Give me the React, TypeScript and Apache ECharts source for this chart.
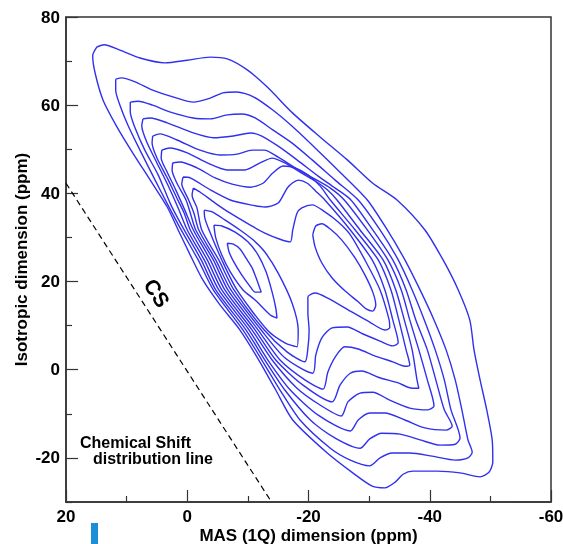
import React, { useEffect, useRef } from "react";
import * as echarts from "echarts";

const xMin = -60;
const xMax = 20;
const xStep = 20;
const yMin = -30;
const yMax = 80;
const yMajorTicks = [-20, 0, 20, 40, 60, 80];
const yMinorTicks = [-30, -10, 10, 30, 50, 70];

// contour lines, outermost first: [MAS shift, isotropic shift]
const contour1 = [[14.9,73.2],[13.7,73.7],[11.1,72.5],[7.8,70.7],[3.7,69.6],[0.0,70.2],[-3.8,70.9],[-6.6,70.5],[-9.9,68.0],[-13.2,64.1],[-17.4,58.2],[-21.9,52.8],[-26.4,47.6],[-30.6,42.3],[-34.6,38.5],[-39.2,31.7],[-42.2,24.9],[-44.7,18.1],[-46.6,11.3],[-47.3,4.5],[-48.3,-2.3],[-49.4,-9.1],[-50.3,-15.9],[-50.4,-20.9],[-49.8,-23.2],[-48.3,-24.3],[-45.0,-23.4],[-41.2,-23.0],[-37.2,-23.0],[-35.6,-23.7],[-34.3,-25.5],[-32.6,-26.8],[-30.5,-26.4],[-27.3,-23.4],[-23.1,-18.9],[-17.4,-11.4],[-14.6,-4.6],[-11.8,2.2],[-8.7,9.0],[-5.4,14.7],[-2.6,20.3],[-0.5,26.0],[1.5,31.7],[3.3,36.9],[6.1,43.0],[9.0,49.2],[11.6,55.1],[13.9,61.2],[15.2,67.3],[15.6,71.2]];
const contour2 = [[11.8,65.9],[10.8,66.2],[8.6,65.3],[5.7,63.4],[1.7,61.6],[-1.0,60.7],[-3.8,61.6],[-5.9,62.8],[-8.2,63.0],[-10.9,61.9],[-14.1,58.9],[-17.4,55.1],[-21.1,50.3],[-25.2,44.8],[-29.7,38.5],[-33.0,31.7],[-35.9,24.9],[-38.4,18.1],[-40.7,11.3],[-42.7,4.5],[-44.2,-2.3],[-45.3,-9.1],[-46.3,-15.9],[-47.0,-18.7],[-46.3,-20.0],[-44.2,-20.5],[-40.4,-19.6],[-36.7,-18.9],[-33.8,-18.9],[-31.8,-20.0],[-30.1,-21.8],[-26.9,-20.5],[-23.6,-17.8],[-18.6,-11.4],[-15.3,-4.6],[-12.3,2.2],[-9.2,9.0],[-4.3,18.1],[-1.8,24.9],[1.0,31.7],[3.2,37.4],[5.3,43.0],[7.8,49.8],[9.8,55.5],[11.1,60.0],[11.8,63.4]];
const contour3 = [[9.4,60.7],[8.1,60.9],[5.7,60.0],[2.9,58.5],[-1.0,57.1],[-3.8,56.9],[-6.6,57.8],[-9.0,58.0],[-11.2,57.1],[-14.1,54.4],[-17.3,51.4],[-20.6,47.6],[-24.4,43.0],[-28.2,38.5],[-31.8,31.7],[-34.8,24.9],[-37.1,18.1],[-39.1,11.3],[-40.9,4.5],[-42.4,-2.3],[-43.5,-9.1],[-45.0,-15.5],[-44.2,-16.9],[-41.7,-17.1],[-38.4,-15.9],[-35.1,-14.6],[-32.1,-14.4],[-30.1,-15.7],[-28.5,-17.8],[-24.4,-15.5],[-20.3,-11.4],[-16.1,-4.6],[-12.8,2.2],[-9.7,9.0],[-4.7,18.1],[-2.3,24.9],[0.5,31.7],[2.7,37.4],[4.8,44.2],[7.0,49.8],[8.6,54.8],[9.4,58.5]];
const contour4 = [[7.3,56.9],[6.1,57.1],[3.3,56.0],[-1.0,53.7],[-4.3,52.6],[-7.6,53.0],[-10.4,53.7],[-12.3,53.0],[-15.0,50.7],[-18.1,47.6],[-21.6,43.9],[-24.4,41.2],[-27.0,38.5],[-30.6,31.7],[-33.9,24.9],[-36.1,18.1],[-37.7,11.3],[-39.6,4.5],[-41.0,-2.3],[-42.4,-9.1],[-43.7,-12.8],[-42.7,-13.7],[-39.2,-13.2],[-35.9,-11.4],[-32.6,-9.8],[-30.1,-9.8],[-28.2,-11.4],[-26.9,-13.9],[-21.6,-10.3],[-17.0,-4.6],[-13.3,2.2],[-10.2,9.0],[-5.2,18.1],[-2.8,24.9],[0.0,31.7],[1.5,36.7],[3.2,41.9],[5.0,46.9],[6.6,51.4],[7.5,55.3]];
const contour5 = [[5.7,53.0],[4.5,53.5],[1.7,52.1],[-2.1,49.8],[-5.4,48.7],[-8.2,48.9],[-10.7,49.8],[-12.7,49.8],[-15.0,48.2],[-17.8,45.8],[-20.7,43.5],[-23.6,41.2],[-25.9,38.5],[-29.7,31.7],[-33.1,24.9],[-35.3,18.1],[-36.7,11.3],[-38.2,4.5],[-39.6,-2.3],[-40.7,-8.2],[-39.7,-9.1],[-36.7,-8.7],[-33.4,-6.9],[-30.6,-5.1],[-28.5,-5.3],[-26.5,-7.3],[-25.4,-10.5],[-21.9,-8.0],[-18.1,-4.2],[-14.0,2.2],[-10.7,9.0],[-5.7,18.1],[-3.3,24.9],[-0.5,31.7],[0.5,35.5],[1.7,38.9],[3.3,43.5],[5.0,48.0],[5.8,51.4]];
const contour6 = [[4.2,49.8],[2.9,50.3],[0.0,49.2],[-3.3,46.9],[-6.6,45.3],[-9.5,45.3],[-12.0,46.9],[-14.0,48.0],[-16.1,46.9],[-18.6,44.8],[-21.1,42.8],[-23.1,40.8],[-24.7,38.5],[-28.5,31.7],[-32.3,24.9],[-34.4,18.1],[-35.8,11.3],[-37.1,4.5],[-37.9,-2.3],[-38.2,-4.2],[-37.1,-4.2],[-34.8,-3.0],[-31.5,-1.7],[-28.8,-0.3],[-26.9,-0.8],[-25.2,-3.5],[-23.9,-7.3],[-19.1,-3.5],[-14.6,2.2],[-11.2,9.0],[-6.2,18.1],[-3.8,24.9],[-1.0,31.7],[0.4,36.2],[1.9,40.8],[3.3,44.8],[4.3,48.0]];
const contour7 = [[2.4,46.9],[1.2,47.1],[-1.6,45.8],[-4.6,43.5],[-7.4,42.1],[-10.4,41.4],[-12.5,42.3],[-14.1,44.6],[-15.8,46.2],[-17.8,45.8],[-19.9,44.2],[-21.9,41.7],[-23.6,38.5],[-27.7,31.7],[-31.5,24.9],[-33.6,18.1],[-34.9,11.3],[-36.1,4.5],[-36.7,1.1],[-35.9,0.8],[-33.9,1.8],[-31.0,3.1],[-28.2,4.7],[-26.0,5.2],[-24.5,3.1],[-23.2,-0.5],[-22.4,-4.4],[-19.4,-2.3],[-15.3,2.2],[-11.7,9.0],[-6.7,18.1],[-4.3,24.9],[-1.4,31.7],[-0.6,35.1],[0.2,38.5],[1.7,42.3],[2.5,45.3]];
const contour8 = [[0.7,43.7],[-0.5,43.5],[-3.8,40.8],[-7.1,38.5],[-10.4,37.4],[-12.8,36.9],[-15.0,37.8],[-16.6,41.4],[-18.3,43.0],[-19.8,42.3],[-21.2,40.5],[-22.7,38.5],[-26.9,31.7],[-30.5,24.9],[-32.6,18.1],[-33.9,11.3],[-34.8,6.1],[-33.9,5.4],[-31.8,6.5],[-29.0,8.1],[-26.4,9.7],[-23.9,9.5],[-22.2,7.2],[-21.2,3.3],[-20.7,-0.8],[-16.1,2.7],[-12.2,9.0],[-7.2,18.1],[-4.7,24.9],[-1.9,31.7],[-1.1,35.5],[-0.1,38.9],[0.9,42.1]];
const contour9 = [[-1.0,41.2],[-2.1,40.3],[-4.6,37.8],[-7.1,35.5],[-10.4,32.8],[-12.8,31.0],[-15.3,29.6],[-17.0,29.0],[-17.4,31.7],[-18.1,35.5],[-18.9,36.7],[-20.6,37.4],[-22.7,35.8],[-24.9,33.5],[-26.9,30.6],[-29.3,24.9],[-31.8,18.1],[-33.3,11.3],[-33.4,9.5],[-32.6,9.0],[-30.1,10.8],[-26.9,13.3],[-23.1,16.3],[-21.1,17.4],[-19.9,16.5],[-19.9,12.9],[-20.1,9.0],[-19.9,4.9],[-19.4,1.8],[-16.5,4.0],[-12.7,9.0],[-7.7,18.1],[-5.2,24.9],[-2.4,31.7],[-1.6,36.7],[-0.8,39.6]];
const leftPeak10 = [[-2.8,36.2],[-4.1,35.8],[-6.2,34.0],[-8.7,31.7],[-10.9,29.4],[-12.8,26.7],[-15.0,21.9],[-17.3,15.1],[-18.3,9.0],[-18.1,5.2],[-16.1,6.1],[-13.2,9.0],[-8.2,18.1],[-5.7,24.9],[-3.6,31.7],[-2.9,34.4]];
const leftPeak11 = [[-4.4,32.8],[-5.7,32.6],[-7.9,31.2],[-10.0,29.0],[-11.7,26.0],[-13.0,22.2],[-14.0,17.6],[-14.6,14.0],[-14.8,11.7],[-13.7,12.4],[-11.2,15.8],[-9.2,18.1],[-7.1,22.2],[-5.7,26.0],[-4.7,29.9]];
const leftPeak12 = [[-6.6,28.7],[-7.6,28.5],[-8.7,27.4],[-9.7,25.3],[-10.7,23.1],[-11.5,20.3],[-12.2,17.6],[-11.2,17.6],[-10.2,19.2],[-8.9,21.7],[-7.7,24.4],[-6.9,26.7]];
const rightPeak10 = [[-20.7,30.6],[-21.2,32.6],[-22.2,33.1],[-23.6,31.9],[-25.5,29.4],[-27.7,25.3],[-29.3,21.5],[-30.6,17.6],[-31.1,14.7],[-30.6,13.3],[-29.5,13.8],[-28.2,15.4],[-26.0,17.9],[-23.9,20.8],[-22.2,24.2],[-21.1,27.8]];

const csLine = [[20, 42.3], [-13.9, -30]];

const contours = [contour1, contour2, contour3, contour4, contour5, contour6, contour7, contour8, contour9, leftPeak10, leftPeak11, leftPeak12, rightPeak10];

const FONT = "'Liberation Sans', Arial, Helvetica, sans-serif";
const AXIS_COLOR = "#333";
const LINE_BLUE = "#3030ee";

export default function App() {
  const ref = useRef<HTMLDivElement>(null);
  useEffect(() => {
    const chart = echarts.init(ref.current as HTMLDivElement, null, { renderer: "svg" });
    const close = (pts: number[][]) => [...pts, pts[0]];
    const labelStyle = { color: "#000", fontFamily: FONT, fontWeight: "bold" as const, fontSize: 17, lineHeight: 17 };
    chart.setOption({
      animation: false,
      grid: {
        left: 66, right: 12, top: 17, bottom: 42,
        outerBoundsMode: "none",
        containLabel: false,
        show: true, borderColor: AXIS_COLOR, borderWidth: 1.5, backgroundColor: "transparent",
      },
      xAxis: {
        type: "value",
        min: xMin,
        max: xMax,
        interval: xStep,
        inverse: true,
        name: "MAS (1Q) dimension (ppm)",
        nameLocation: "middle",
        nameGap: 25,
        nameMoveOverlap: false,
        nameTextStyle: labelStyle,
        axisLine: { show: true, onZero: false, lineStyle: { color: AXIS_COLOR, width: 1.5 } },
        axisTick: { show: true, inside: true, length: 12, lineStyle: { color: AXIS_COLOR, width: 1.2 } },
        minorTick: { show: true, splitNumber: 2, length: 6, lineStyle: { color: AXIS_COLOR, width: 1.2 } },
        axisLabel: { ...labelStyle, margin: 6 },
        splitLine: { show: false },
        minorSplitLine: { show: false },
      },
      yAxis: [
        {
          type: "value",
          min: yMin,
          max: yMax,
          name: "Isotropic dimension (ppm)",
          nameLocation: "middle",
          nameGap: 36,
          nameMoveOverlap: false,
          nameTextStyle: labelStyle,
          axisLine: { show: true, onZero: false, lineStyle: { color: AXIS_COLOR, width: 1.5 } },
          axisTick: { show: true, inside: true, length: 12, customValues: yMajorTicks, lineStyle: { color: AXIS_COLOR, width: 1.2 } },
          axisLabel: { ...labelStyle, margin: 6, customValues: yMajorTicks },
          splitLine: { show: false },
        },
        {
          type: "value",
          min: yMin,
          max: yMax,
          position: "left",
          axisLine: { show: false, onZero: false },
          axisTick: { show: true, inside: true, length: 6, customValues: yMinorTicks, lineStyle: { color: AXIS_COLOR, width: 1.2 } },
          axisLabel: { show: false },
          splitLine: { show: false },
        },
      ],
      series: [
        ...contours.map((c) => ({
          type: "line",
          data: close(c),
          showSymbol: false,
          symbol: "none",
          smooth: 0.25,
          silent: true,
          lineStyle: { color: LINE_BLUE, width: 1.4 },
        })),
        {
          type: "line",
          data: csLine,
          showSymbol: false,
          symbol: "none",
          silent: true,
          lineStyle: { color: "#000", width: 1.2, type: [6, 4] },
        },
      ],
      graphic: [
        {
          type: "text",
          x: 157,
          y: 293,
          rotation: -1.0,
          style: { text: "CS", font: `bold 21px ${FONT}`, fill: "#000", textAlign: "center", textVerticalAlign: "middle", align: "center", verticalAlign: "middle" },
        },
        {
          type: "text",
          x: 80,
          y: 442,
          style: { text: "Chemical Shift", font: `bold 16px ${FONT}`, fill: "#000", textVerticalAlign: "middle", verticalAlign: "middle" },
        },
        {
          type: "text",
          x: 93,
          y: 458.5,
          style: { text: "distribution line", font: `bold 16px ${FONT}`, fill: "#000", textVerticalAlign: "middle", verticalAlign: "middle" },
        },
        {
          type: "rect",
          shape: { x: 91, y: 523, width: 7, height: 21 },
          style: { fill: "#1a8ed6" },
        },
      ],
    });
    return () => chart.dispose();
  }, []);
  return <div ref={ref} style={{ position: "fixed", left: 0, top: 0, width: 563, height: 544 }} />;
}
